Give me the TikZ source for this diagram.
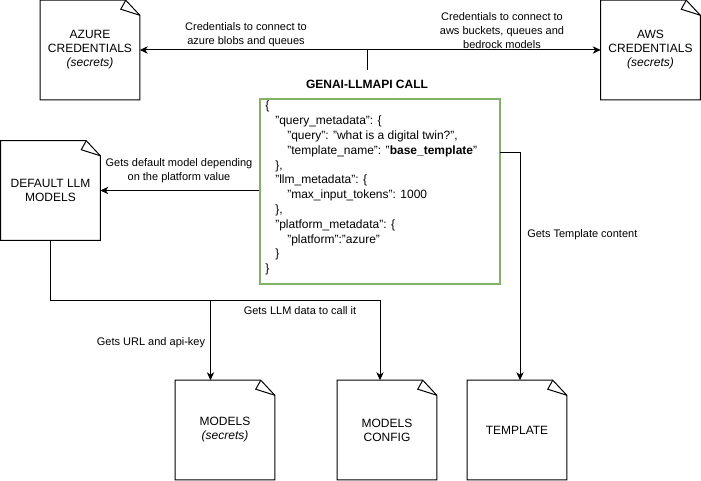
\documentclass[tikz,border=0pt]{standalone}
\usepackage{fontspec}
\setmainfont{Liberation Sans}
\usetikzlibrary{arrows.meta,calc}
\newcommand{\docshape}[1]{%
  \draw[docline] (#1.south west) -- (#1.north west) -- ($(#1.north east)+(-14,0)$) -- ($(#1.north east)+(0,15)$) -- (#1.south east) -- cycle;
  \draw[docline] ($(#1.north east)+(-14,0)$) -- ($(#1.north east)+(-19,9)$) -- ($(#1.north east)+(0,15)$);}
\tikzset{
  docnode/.style={minimum width=74.25pt, minimum height=74.25pt, inner sep=0pt, align=center,
    font=\fontsize{9}{10.5}\selectfont},
  docline/.style={draw=black, line width=0.75pt, line join=miter},
  conn/.style={draw=black, line width=0.75pt, -{Stealth[length=6pt,width=5.5pt,inset=1.8pt]}},
  lbl/.style={inner sep=0pt, align=center, font=\fontsize{8.25}{10.5}\selectfont},
  jsonbox/.style={draw=green!45!black!60!white, draw={rgb,255:red,130;green,179;blue,102}, line width=1.5pt,
    minimum width=180pt, minimum height=138.75pt, inner sep=0pt}
}
\begin{document}
\begin{tikzpicture}[x=0.75pt,y=-0.75pt]
\useasboundingbox (0,0) rectangle (701,481);

% document nodes
\node[docnode] (azure) at (90,50) {AZURE\\CREDENTIALS\\\textit{(secrets)}};
\docshape{azure}
\node[docnode] (aws) at (650.5,50) {AWS\\CREDENTIALS\\\textit{(secrets)}};
\docshape{aws}
\node[docnode] (default) at (50.5,190.5) {DEFAULT LLM\\MODELS};
\docshape{default}
\node[docnode] (models) at (225,430) {MODELS\\\textit{(secrets)}};
\docshape{models}
\node[docnode] (mcfg) at (387,430) {MODELS\\CONFIG};
\docshape{mcfg}
\node[docnode] (template) at (517,430) {TEMPLATE};
\docshape{template}

% title and json box
\node[inner sep=0pt, font=\bfseries\fontsize{9}{10.5}\selectfont] (title) at (367,84) {GENAI-LLMAPI CALL};
\node[jsonbox] (json) at (380,191.5) {};
\node[anchor=north west, inner sep=0pt, align=left, font=\fontsize{9}{11.1}\selectfont] (jsontext) at (265,101)
{\{\\
\hspace*{7.5pt}"query\_metadata": \{\\
\hspace*{16.5pt}"query": "what is a digital twin?",\\
\hspace*{16.5pt}"template\_name": "\textbf{base\_template}"\\
\hspace*{7.5pt}\},\\
\hspace*{7.5pt}"llm\_metadata": \{\\
\hspace*{16.5pt}"max\_input\_tokens": 1000\\
\hspace*{7.5pt}\},\\
\hspace*{7.5pt}"platform\_metadata": \{\\
\hspace*{16.5pt}"platform":"azure"\\
\hspace*{7.5pt}\}\\
\}};

% connectors
\coordinate (src) at (367,70);
\draw[conn] (src) |- (azure.east);
\draw[conn] (src) |- (aws.west);
\draw[conn] (json.west |- default.east) -- (default.east);
\draw[conn] (default.south) -- ++(0,60) -| ([xshift=-5.25pt]mcfg.north);
\coordinate (br) at (210.5,300.5);
\draw[conn] (br) -- (br |- models.north);
\coordinate (tp) at (500,153);
\draw[conn] (tp) -| ([xshift=2.25pt]template.north);

% labels
\node[lbl] (l1) at (246,35) {Credentials to connect to\\azure blobs and queues};
\node[lbl] (l2) at (502,31) {Credentials to connect to\\aws buckets, queues and\\bedrock models};
\node[lbl] (l3) at (179,171) {Gets default model depending\\on the platform value};
\node[lbl] (l4) at (300,311) {Gets LLM data to call it};
\node[lbl] (l5) at (151,343) {Gets URL and api-key};
\node[lbl, anchor=west] (l6) at (527,235) {Gets Template content};
\end{tikzpicture}
\end{document}
